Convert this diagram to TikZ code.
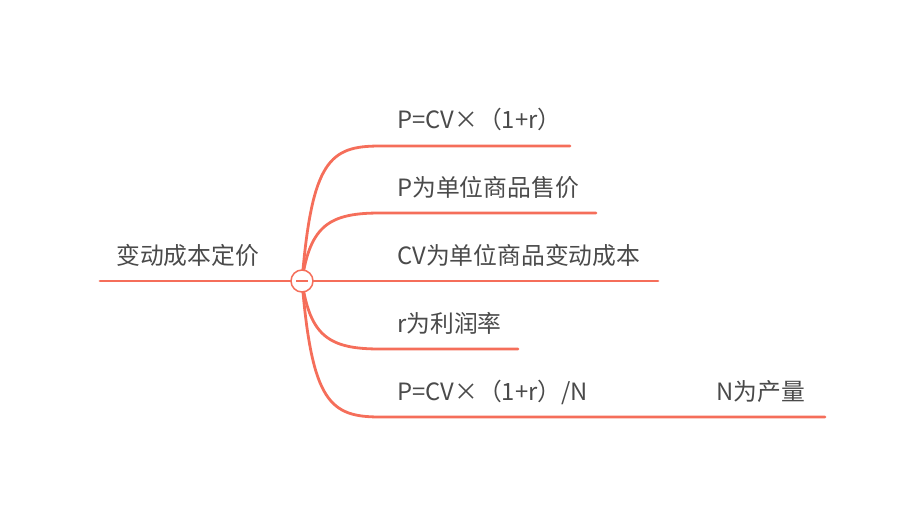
\documentclass[tikz,border=0pt]{standalone}
\usepackage{fontspec}
\setmainfont{Noto Sans CJK SC}
\usetikzlibrary{calc}
\definecolor{branch}{HTML}{F56E5A}
\definecolor{txt}{HTML}{4A4A4A}
\tikzset{
  link/.style={draw=branch, line width=2.8pt, line cap=round},
  lbl/.style={anchor=base west, inner sep=0pt, text=txt, font=\fontsize{23.8pt}{28pt}\selectfont},
}
\begin{document}
\begin{tikzpicture}[x=1pt,y=-1pt]
    \useasboundingbox (0,0) rectangle (924,520);
    \coordinate (hub) at (302,281);

    \node [lbl] (root) at (116,264) {变动成本定价};
    \coordinate (rootend) at (100,281);
    \draw [link] (rootend) -- (hub);

    \node [lbl] (a) at (397,128) {P=CV×（1+r）};
    \node [lbl] (b) at (397,196) {P为单位商品售价};
    \node [lbl] (c) at (397,264) {CV为单位商品变动成本};
    \node [lbl] (d) at (397,332) {r为利润率};
    \node [lbl] (e) at (397,400) {P=CV×（1+r）/N};
    \node [lbl] (f) at (716,400) {N为产量};

    \coordinate (ae) at (570,146);
    \coordinate (be) at (596,213);
    \coordinate (ce) at (658,281);
    \coordinate (de) at (518,349);
    \coordinate (ee) at (825,417);

    \draw [link] (hub) .. controls (312,160) and (330,146) .. (380,146) -- (ae);
    \draw [link] (hub) .. controls (310,225) and (330,213) .. (380,213) -- (be);
    \draw [link] (hub) -- (ce);
    \draw [link] (hub) .. controls (310,337) and (330,349) .. (380,349) -- (de);
    \draw [link] (hub) .. controls (312,402) and (330,417) .. (380,417) -- (ee);

    \draw [draw=branch, line width=1.5pt, fill=white] (hub) circle (11);
    \draw [draw=branch, line width=1.5pt] ($(hub)+(-6,0)$) -- ($(hub)+(6,0)$);
\end{tikzpicture}
\end{document}
